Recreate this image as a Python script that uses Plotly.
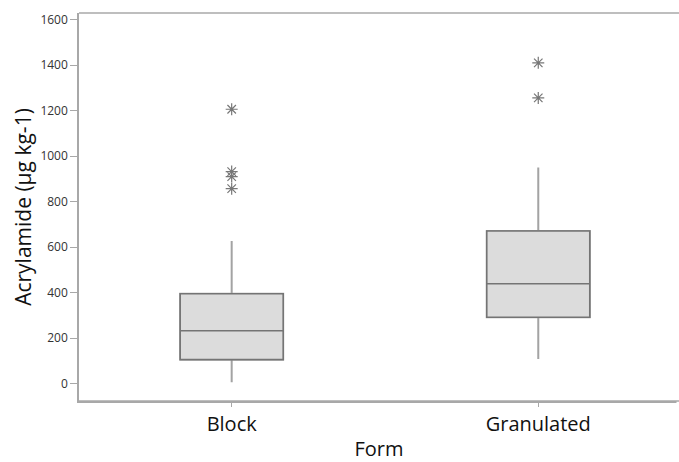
import plotly.graph_objects as go

categories = ["Block", "Granulated"]
q1 = [106, 292]
median = [233, 439]
q3 = [395, 671]
lower_whisker = [6, 109]
upper_whisker = [627, 950]
outliers_block = [1206, 932, 910, 857]
outliers_gran = [1410, 1256]

y_ticks = [0, 200, 400, 600, 800, 1000, 1200, 1400, 1600]

fig = go.Figure()

for i, cat in enumerate(categories):
    fig.add_trace(go.Box(
        x=[cat], q1=[q1[i]], median=[median[i]], q3=[q3[i]],
        lowerfence=[lower_whisker[i]], upperfence=[upper_whisker[i]],
        width=0.336, whiskerwidth=0,
        fillcolor="#dcdcdc", line=dict(color="#a3a3a3", width=2),
        boxpoints=False, showlegend=False, hoverinfo="skip",
    ))
    fig.add_trace(go.Box(
        x=[cat], q1=[q1[i]], median=[median[i]], q3=[q3[i]],
        lowerfence=[q1[i]], upperfence=[q3[i]],
        width=0.336, whiskerwidth=0,
        fillcolor="#dcdcdc", line=dict(color="#747474", width=1.6),
        boxpoints=False, showlegend=False, hoverinfo="skip",
    ))

fig.add_trace(go.Scatter(
    x=[categories[0]] * len(outliers_block) + [categories[1]] * len(outliers_gran),
    y=outliers_block + outliers_gran,
    mode="markers",
    marker=dict(symbol="asterisk-open", size=10, color="#777777",
                line=dict(color="#777777", width=1.2)),
    showlegend=False, hoverinfo="skip",
))

fig.update_layout(
    template="none",
    width=679, height=462,
    margin=dict(l=79, r=0, t=13, b=61),
    paper_bgcolor="white", plot_bgcolor="white",
    font=dict(family="Open Sans", color="#111"),
    boxmode="overlay",
    xaxis=dict(
        type="category", automargin=False,
        categoryorder="array", categoryarray=categories,
        range=[-0.498, 1.459],
        showline=True, linecolor="#a8a8a8", linewidth=1.5, mirror=False,
        ticks="outside", ticklen=4, tickcolor="#a8a8a8", tickwidth=1,
        tickfont=dict(size=20, color="#111"),
        showgrid=False, zeroline=False,
        title=dict(text="Form", font=dict(size=20, color="#111"), standoff=10),
    ),
    yaxis=dict(
        range=[-76, 1629], automargin=False,
        tickvals=y_ticks,
        showline=True, linecolor="#a8a8a8", linewidth=1.5, mirror=False,
        ticks="outside", ticklen=7, tickcolor="#a8a8a8", tickwidth=1,
        tickfont=dict(size=12, color="#333"),
        showgrid=False, zeroline=False,
        title=dict(text="Acrylamide (µg kg-1)", font=dict(size=21, color="#111"), standoff=3),
    ),
    shapes=[
        dict(type="line", xref="paper", yref="paper", x0=1, x1=1, y0=-0.01, y1=1.01,
             line=dict(color="white", width=5), layer="above"),
        dict(type="line", xref="paper", yref="paper", x0=0, x1=1, y0=1, y1=1,
             line=dict(color="#a8a8a8", width=1.5), layer="above"),
        dict(type="line", xref="paper", yref="paper", x0=0, x1=1, y0=0, y1=0,
             line=dict(color="#a8a8a8", width=1.5), layer="above"),
    ],
)

fig.write_html("out.html")
